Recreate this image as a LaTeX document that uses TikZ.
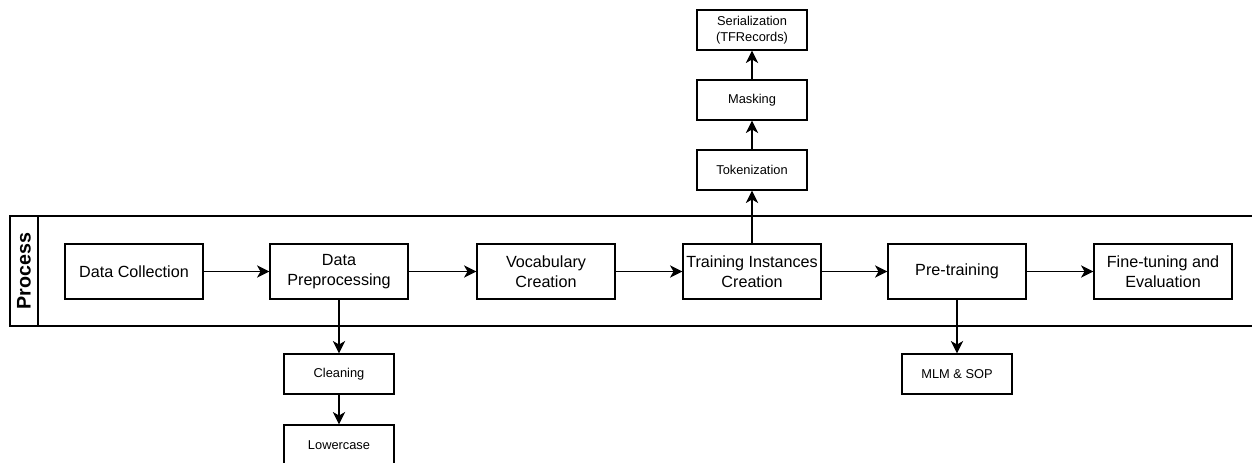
\documentclass[tikz,border=0pt]{standalone}
\usepackage{fontspec}
\setmainfont{Liberation Sans}
\usepackage{tikz}
\usetikzlibrary{positioning,arrows.meta}
\tikzset{stage/.style={rectangle,draw,minimum height=1.1cm,minimum width=2.76cm,inner sep=1pt,align=center,font=\fontsize{9.2}{11.5}\selectfont}}
\tikzset{substage/.style={rectangle,draw,minimum height=0.8cm,minimum width=2.2cm,inner sep=1pt,align=center,font=\fontsize{7.3}{9.4}\selectfont}}

\begin{document}
\begin{tikzpicture}[>={Stealth[length=7pt,width=7pt,inset=2pt]}, line width=0.8pt]
    \useasboundingbox (0,0) rectangle (25.04,-9.24);
    % swimlane
    \draw (25.3,-4.32) -- (0.2,-4.32) -- (0.2,-6.52) -- (25.3,-6.52);
    \draw (0.76,-4.32) -- (0.76,-6.52);
    \node[rotate=90,font=\bfseries\fontsize{11.2}{13}\selectfont] (lane) at (0.48,-5.42) {Process};
    % main stages
    \node[stage] (collect) at (2.68,-5.43) {Data Collection};
    \node[stage] (prep) at (6.78,-5.43) {Data\\Preprocessing};
    \node[stage] (vocab) at (10.92,-5.43) {Vocabulary\\Creation};
    \node[stage] (inst) at (15.04,-5.43) {Training Instances\\Creation};
    \node[stage] (pretrain) at (19.14,-5.43) {Pre-training};
    \node[stage] (finetune) at (23.26,-5.43) {Fine-tuning and\\Evaluation};
    % sub steps
    \node[substage] (token) at (15.04,-3.4) {Tokenization};
    \node[substage] (mask) at (15.04,-2.0) {Masking};
    \node[substage] (serial) at (15.04,-0.6) {Serialization\\(TFRecords)};
    \node[substage] (clean) at (6.78,-7.48) {Cleaning};
    \node[substage] (lower) at (6.78,-8.9) {Lowercase};
    \node[substage] (mlm) at (19.14,-7.48) {MLM \& SOP};
    \draw [->] (collect) to (prep);
    \draw [->] (prep) to (vocab);
    \draw [->] (vocab) to (inst);
    \draw [->] (inst) to (pretrain);
    \draw [->] (pretrain) to (finetune);
    \draw [->] (inst) to (token);
    \draw [->] (token) to (mask);
    \draw [->] (mask) to (serial);
    \draw [->] (prep) to (clean);
    \draw [->] (clean) to (lower);
    \draw [->] (pretrain) to (mlm);
\end{tikzpicture}
\end{document}
